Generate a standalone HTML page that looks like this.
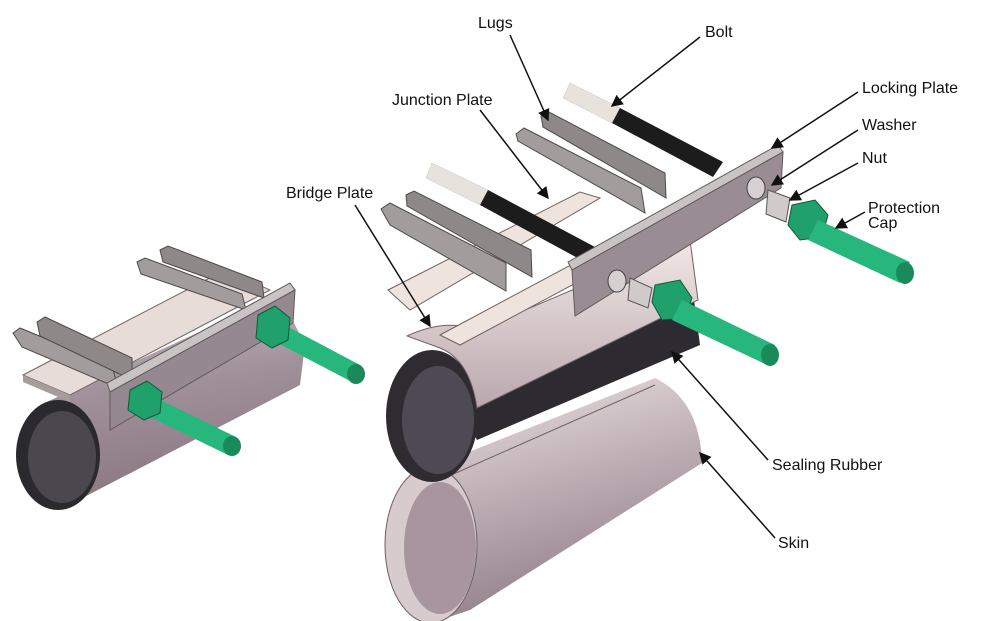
<!DOCTYPE html>
<html><head><meta charset="utf-8"><style>
html,body{margin:0;padding:0;background:#fff;}
svg{display:block}
text{font-family:"Liberation Sans",sans-serif;font-size:16px;fill:#111}
</style></head><body>
<svg width="1000" height="621" viewBox="0 0 1000 621" xmlns="http://www.w3.org/2000/svg">
<defs>
<linearGradient id="pipe" x1="0" y1="0" x2="0.2" y2="1">
<stop offset="0" stop-color="#cdbfc4"/><stop offset="0.5" stop-color="#a0909a"/><stop offset="1" stop-color="#8a7880"/></linearGradient>
<linearGradient id="skin" x1="0" y1="0" x2="0.3" y2="1">
<stop offset="0" stop-color="#ece3e3"/><stop offset="0.6" stop-color="#b5a5ac"/><stop offset="1" stop-color="#917f88"/></linearGradient>
<linearGradient id="shell" x1="0" y1="0" x2="0" y2="1">
<stop offset="0" stop-color="#f2e8e6"/><stop offset="1" stop-color="#b9a8ae"/></linearGradient>
<marker id="ar" markerWidth="8" markerHeight="8" refX="7" refY="4" orient="auto"><path d="M0,0 L8,4 L0,8 z" fill="#111"/></marker>
</defs>

<!-- LEFT ASSEMBLY -->
<polygon points="40,405 280,295 305,345 300,385 65,507" fill="url(#pipe)"/>
<ellipse cx="58" cy="455" rx="42" ry="55" fill="#2a2a2e"/>
<ellipse cx="62" cy="457" rx="34" ry="46" fill="#4a474f"/>
<polygon points="23,375 225,270 270,290 70,395" fill="#e8dcd8" stroke="#6d6767"/>
<polygon points="23,375 70,395 70,402 23,382" fill="#a59c9c"/>
<!-- left lugs (fins) -->
<polygon points="13,333 20,328 112,366 118,388 22,347" fill="#a29c9c" stroke="#4f4949"/>
<polygon points="37,322 45,317 132,358 132,380 40,336" fill="#8e8888" stroke="#4f4949"/>
<polygon points="137,262 145,258 242,294 246,310 141,274" fill="#a29c9c" stroke="#4f4949"/>
<polygon points="160,250 168,246 262,282 264,298 163,262" fill="#8e8888" stroke="#4f4949"/>
<!-- left locking plate -->
<polygon points="107,383 290,283 295,290 110,392" fill="#c9c3c3" stroke="#5f5959"/>
<polygon points="110,392 295,290 293,323 110,430" fill="#968890" stroke="#5f5959"/>
<!-- left bolts -->
<polygon points="275,320 360,365 352,382 268,338" fill="#27b77c"/>
<ellipse cx="356" cy="374" rx="9" ry="10" fill="#1a8a5a"/>
<polygon points="258,315 275,306 290,318 288,340 272,348 256,338" fill="#20a06a" stroke="#0f5a3a"/>
<polygon points="150,395 236,437 228,455 142,413" fill="#27b77c"/>
<ellipse cx="232" cy="446" rx="9" ry="10" fill="#1a8a5a"/>
<polygon points="130,390 147,381 162,392 160,413 144,420 128,410" fill="#20a06a" stroke="#0f5a3a"/>

<!-- RIGHT: skin -->
<path d="M431,467 L655,378 Q700,400 702,463 L470,610 L431,623 z" fill="url(#skin)"/>
<ellipse cx="431" cy="545" rx="46" ry="78" fill="#d8cbcd" stroke="#6e5f66"/>
<ellipse cx="440" cy="548" rx="36" ry="66" fill="#a8959d"/>
<line x1="440" y1="480" x2="655" y2="385" stroke="#6e5f66"/>

<!-- upper pipe rubber -->
<polygon points="440,370 690,270 700,345 477,440" fill="#2e2a31"/>
<ellipse cx="432" cy="416" rx="46" ry="66" fill="#2e2b31"/>
<ellipse cx="438" cy="420" rx="36" ry="54" fill="#4e4a53"/>
<!-- shell -->
<path d="M407,336 Q445,318 478,330 L690,240 L698,300 L477,408 Q470,360 440,348 z" fill="url(#shell)" stroke="#6f6168"/>
<!-- bridge plates -->
<polygon points="388,290 580,192 600,198 410,310" fill="#efe3de" stroke="#6d6262"/>
<polygon points="440,335 640,228 660,238 460,345" fill="#efe3de" stroke="#6d6262"/>
<!-- bolts -->
<polygon points="432,163 488,190 595,247 585,262 480,205 426,178" fill="#1c1c1c"/>
<polygon points="432,163 488,190 480,205 426,178" fill="#e7e2dc"/>
<polygon points="570,83 620,108 723,162 713,177 612,123 563,98" fill="#1c1c1c"/>
<polygon points="570,83 620,108 612,123 563,98" fill="#e7e2dc"/>
<!-- lugs front (fins) -->
<polygon points="381,209 390,203 506,263 506,291 390,225" fill="#a29c9c" stroke="#4f4949"/>
<polygon points="406,195 414,191 531,250 532,277 407,206" fill="#8e8888" stroke="#4f4949"/>
<!-- lugs back -->
<polygon points="516,134 524,128 641,188 645,213 518,141" fill="#a29c9c" stroke="#4f4949"/>
<polygon points="541,116 549,112 665,173 666,198 543,127" fill="#8e8888" stroke="#4f4949"/>
<!-- locking plate -->
<polygon points="568,262 778,145 783,152 572,270" fill="#c9c3c3" stroke="#5f5959"/>
<polygon points="572,270 783,152 781,188 575,316" fill="#9a8c93" stroke="#5f5959"/>
<!-- washers/nuts lower -->
<ellipse cx="617" cy="281" rx="9" ry="11" fill="#d6d0d0" stroke="#444"/>
<polygon points="630,278 652,288 648,308 628,300" fill="#d0caca" stroke="#555"/>
<polygon points="655,285 680,280 692,298 685,318 662,320 652,302" fill="#20a06a" stroke="#0f5a3a"/>
<polygon points="682,300 775,345 765,364 672,320" fill="#27b77c"/>
<ellipse cx="770" cy="355" rx="9" ry="11" fill="#1a8a5a"/>
<!-- upper -->
<ellipse cx="756" cy="188" rx="9" ry="11" fill="#d6d0d0" stroke="#444"/>
<polygon points="768,190 790,198 786,222 766,214" fill="#d0caca" stroke="#555"/>
<polygon points="792,205 815,200 828,215 822,237 800,240 788,225" fill="#20a06a" stroke="#0f5a3a"/>
<polygon points="818,220 910,262 900,283 808,240" fill="#27b77c"/>
<ellipse cx="905" cy="273" rx="9" ry="11" fill="#1a8a5a"/>

<!-- labels -->
<g stroke="#111" stroke-width="1.5" fill="none">
<line x1="510" y1="35" x2="548" y2="120" marker-end="url(#ar)"/>
<line x1="700" y1="37" x2="612" y2="106" marker-end="url(#ar)"/>
<line x1="480" y1="110" x2="548" y2="198" marker-end="url(#ar)"/>
<line x1="858" y1="92" x2="772" y2="148" marker-end="url(#ar)"/>
<line x1="858" y1="130" x2="772" y2="185" marker-end="url(#ar)"/>
<line x1="858" y1="163" x2="790" y2="200" marker-end="url(#ar)"/>
<line x1="865" y1="212" x2="836" y2="228" marker-end="url(#ar)"/>
<line x1="355" y1="205" x2="430" y2="326" marker-end="url(#ar)"/>
<line x1="768" y1="460" x2="672" y2="352" marker-end="url(#ar)"/>
<line x1="775" y1="538" x2="700" y2="453" marker-end="url(#ar)"/>
</g>
<text x="478" y="28">Lugs</text>
<text x="705" y="37">Bolt</text>
<text x="392" y="105">Junction Plate</text>
<text x="862" y="93">Locking Plate</text>
<text x="862" y="130">Washer</text>
<text x="862" y="163">Nut</text>
<text x="868" y="213">Protection</text>
<text x="868" y="228">Cap</text>
<text x="286" y="198">Bridge Plate</text>
<text x="772" y="470">Sealing Rubber</text>
<text x="778" y="548">Skin</text>
</svg>
</body></html>
